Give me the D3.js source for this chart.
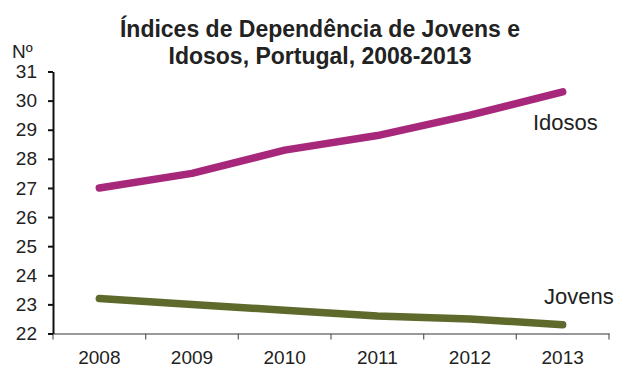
<!DOCTYPE html>
<html>
<head>
<meta charset="utf-8">
<script src="https://cdn.jsdelivr.net/npm/d3@7/dist/d3.min.js"></script>
<style>
  html, body { margin: 0; padding: 0; background: #fff; }
  svg { display: block; font-family: "Liberation Sans", Arial, sans-serif; }
</style>
</head>
<body>
<svg id="chart" width="619" height="367"></svg>
<script>
// Dependency indices, Portugal 2008-2013
const years = ["2008", "2009", "2010", "2011", "2012", "2013"];
const idosos = [27.0, 27.5, 28.3, 28.8, 29.5, 30.3];
const jovens = [23.2, 23.0, 22.8, 22.6, 22.5, 22.3];
const yTicks = [22, 23, 24, 25, 26, 27, 28, 29, 30, 31];
const titleLines = ["Índices de Dependência de Jovens e", "Idosos, Portugal, 2008-2013"];

(function () {
  const svg = d3.select("#chart");
  const left = 53, right = 609, plotTop = 71.5, bottom = 333.5;
  const font = "Liberation Sans, Arial, sans-serif";

  const x = d3.scaleBand().domain(years).range([left, right]);
  const y = d3.scaleLinear().domain([22, 31]).range([bottom, plotTop]);

  // title
  svg.append("g").selectAll("text").data(titleLines).join("text")
    .attr("x", 320).attr("y", (d, i) => 37 + i * 27)
    .attr("text-anchor", "middle")
    .attr("font-size", 23).attr("font-weight", "bold").attr("fill", "#222")
    .text(d => d);

  // unit label
  svg.append("text").attr("x", 12).attr("y", 58)
    .attr("font-size", 19).attr("fill", "#222").text("Nº");

  // x axis
  const xAxis = svg.append("g").attr("transform", `translate(0,${bottom})`)
    .call(d3.axisBottom(x).tickSize(0).tickPadding(17));
  xAxis.select(".domain").attr("stroke", "#777").attr("stroke-width", 1.3);
  xAxis.selectAll("text").attr("font-size", 19).attr("fill", "#222")
    .attr("font-family", font);
  // tick marks on the band boundaries
  xAxis.selectAll("line.bt").data(d3.range(years.length + 1)).join("line")
    .attr("class", "bt")
    .attr("x1", i => left + i * x.step()).attr("x2", i => left + i * x.step())
    .attr("y1", 0).attr("y2", 6)
    .attr("stroke", "#666").attr("stroke-width", 1.3);

  // y axis
  const yAxis = svg.append("g").attr("transform", `translate(${left},0)`)
    .call(d3.axisLeft(y).tickValues(yTicks).tickSize(5).tickPadding(11).tickSizeOuter(0));
  yAxis.select(".domain").attr("stroke", "#111").attr("stroke-width", 2);
  yAxis.selectAll(".tick line").attr("stroke", "#111").attr("stroke-width", 2);
  yAxis.selectAll("text").attr("font-size", 19).attr("fill", "#222")
    .attr("font-family", font);

  // series lines
  const line = d3.line()
    .x((d, i) => x(years[i]) + x.bandwidth() / 2)
    .y(d => y(d));

  svg.append("path").datum(jovens).attr("d", line)
    .attr("fill", "none").attr("stroke", "#5e6a2c").attr("stroke-width", 7.5)
    .attr("stroke-linecap", "round").attr("stroke-linejoin", "round");
  svg.append("path").datum(idosos).attr("d", line)
    .attr("fill", "none").attr("stroke", "#a7287b").attr("stroke-width", 7.5)
    .attr("stroke-linecap", "round").attr("stroke-linejoin", "round");

  // series labels
  svg.append("text").attr("x", 533).attr("y", 130)
    .attr("font-size", 22).attr("fill", "#222").text("Idosos");
  svg.append("text").attr("x", 544).attr("y", 304)
    .attr("font-size", 22).attr("fill", "#222").text("Jovens");
})();
</script>
</body>
</html>
